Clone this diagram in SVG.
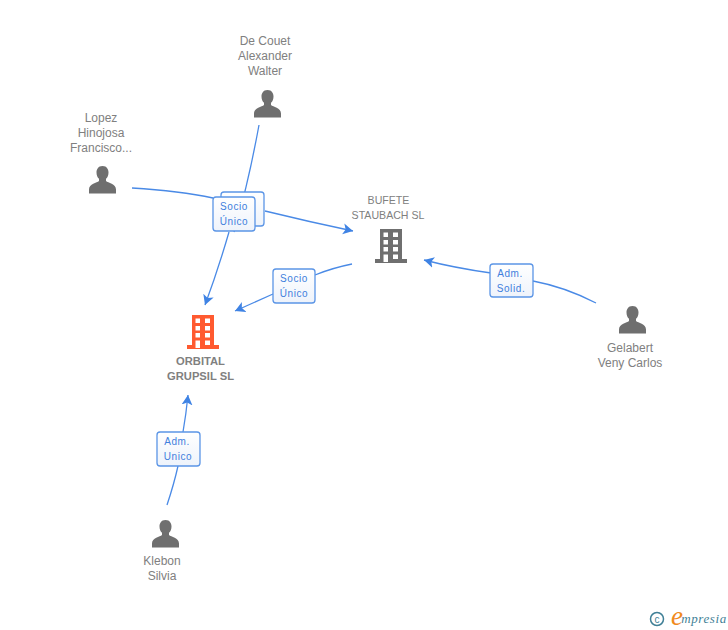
<svg xmlns="http://www.w3.org/2000/svg" width="728" height="630" viewBox="0 0 728 630">
<defs>
<marker id="arr" markerUnits="userSpaceOnUse" markerWidth="13" markerHeight="13" refX="10" refY="6" orient="auto"><path d="M0 0.500L10 6L0 11.500L2.500 6Z" fill="#3f83e4"/></marker>
<linearGradient id="lb" x1="0" y1="0" x2="0" y2="1"><stop offset="0" stop-color="#fff"/><stop offset="1" stop-color="#eef3fb"/></linearGradient>
<g id="person"><path d="M0 -14C-4.500 -14 -6 -10.500 -6 -7.500C-6 -4.500 -5 -2.500 -3.500 -1.200L-3.500 1C-5.500 3 -13.500 3.500 -13.500 9.500L-13.500 13.500L13.500 13.500L13.500 9.500C13.500 3.500 5.500 3 3.500 1L3.500 -1.200C5 -2.500 6 -4.500 6 -7.500C6 -10.500 4.500 -14 0 -14Z" fill="#6f6f6f"/></g>
<path id="bld" fill-rule="evenodd" d="M-11 -17H11V13H16V17H-16V13H-11ZM-7.500 -13.500V-9H-3V-13.500ZM2 -13.500V-9H7V-13.500ZM-7.500 -6V-1.500H-3V-6ZM2 -6V-1.500H7V-6ZM-7.500 1V5.500H-3V1ZM2 1V5.500H7V1ZM-7.500 8.500V16H-3V8.500ZM2 8.500V13H7V8.500Z"/>
</defs>
<style>
text{font-family:"Liberation Sans",Arial,sans-serif;font-size:12px;fill:#808080;text-anchor:middle}
.c{fill:none;stroke:#4a8ae6;stroke-width:1.300}
.lb{fill:url(#lb);stroke:#5b95e6;stroke-width:1.300}
.lt{font-size:10px;fill:#3f7fdd;letter-spacing:.6px}
.b{font-size:11.200px;font-weight:bold}
.s{font-size:10.600px}
</style>
<rect width="728" height="630" fill="#fff"/>
<g id="connectors">
<path class="c" d="M259 125Q248 185 234 232"/>
<path class="c" d="M229 232Q218 270 205 305" marker-end="url(#arr)"/>
<path class="c" d="M132 188Q180 191 213 198"/>
<path class="c" d="M265 211Q310 222 353 231" marker-end="url(#arr)"/>
<path class="c" d="M352 264Q332 268 315 275"/>
<path class="c" d="M273 294Q255 302 235 311" marker-end="url(#arr)"/>
<path class="c" d="M596 303Q565 287 533 281"/>
<path class="c" d="M491 273Q455 268 424 260" marker-end="url(#arr)"/>
<path class="c" d="M167 505Q174 484 178 466"/>
<path class="c" d="M183 432Q186 415 188 395" marker-end="url(#arr)"/>
</g>
<g id="label-socio-back"><rect class="lb" x="221" y="192" width="43" height="34" rx="3"/></g>
<g id="label-socio-1"><rect class="lb" x="213" y="197" width="42" height="34" rx="3"/><text class="lt" x="234" y="210">Socio</text><text class="lt" x="234" y="225">Único</text></g>
<g id="label-socio-2"><rect class="lb" x="273" y="269" width="42" height="34" rx="3"/><text class="lt" x="294" y="282">Socio</text><text class="lt" x="294" y="297">Único</text></g>
<g id="label-adm-solid"><rect class="lb" x="490" y="264" width="43" height="33" rx="3"/><text class="lt" x="510" y="277">Adm.</text><text class="lt" x="511" y="292">Solid.</text></g>
<g id="label-adm-unico"><rect class="lb" x="157" y="432" width="43" height="34" rx="3"/><text class="lt" x="177" y="445">Adm.</text><text class="lt" x="178" y="460">Unico</text></g>
<g id="node-decouet"><text x="265" y="45">De Couet</text><text x="265" y="60">Alexander</text><text x="265" y="75">Walter</text><use href="#person" x="267.500" y="104"/></g>
<g id="node-lopez"><text x="101" y="122">Lopez</text><text x="101" y="137">Hinojosa</text><text x="101" y="152">Francisco...</text><use href="#person" x="102.500" y="180"/></g>
<g id="node-bufete"><text class="s" x="388.500" y="204">BUFETE</text><text class="s" x="388" y="219">STAUBACH SL</text><use href="#bld" x="391" y="246" fill="#6f6f6f"/></g>
<g id="node-orbital"><use href="#bld" x="203" y="332" fill="#ff5a30"/><text class="b" x="200.500" y="365">ORBITAL</text><text class="b" x="200.500" y="380">GRUPSIL SL</text></g>
<g id="node-gelabert"><use href="#person" x="632.500" y="320"/><text x="630" y="352">Gelabert</text><text x="630" y="367">Veny Carlos</text></g>
<g id="node-klebon"><use href="#person" x="165.500" y="534"/><text x="162" y="565">Klebon</text><text x="162" y="580">Silvia</text></g>
<g id="logo"><circle cx="657" cy="619" r="6.500" fill="none" stroke="#3f7f96" stroke-width="1.500"/><text x="657" y="622.500" style="font-size:10px;fill:#3f7f96">c</text><text x="677" y="625" style="font-family:'Liberation Serif',serif;font-style:italic;font-size:27px;fill:#f08a1d">e</text><text x="704" y="623" style="font-family:'Liberation Serif',serif;font-style:italic;font-size:13px;fill:#3f7f96;letter-spacing:.6px">mpresia</text></g>
</svg>
